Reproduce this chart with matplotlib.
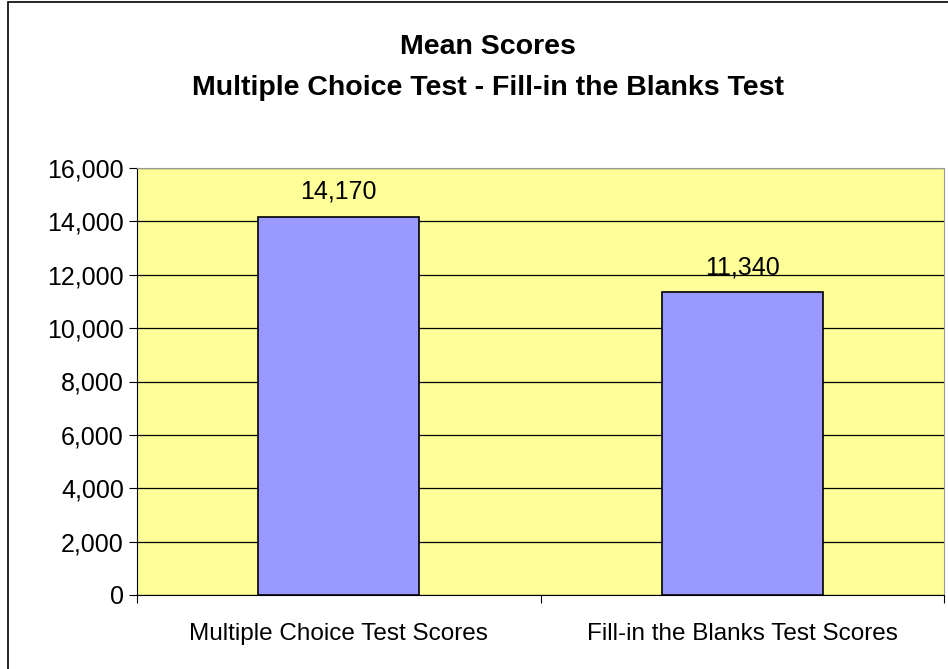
import matplotlib.pyplot as plt
from matplotlib.patches import Rectangle
from matplotlib.ticker import FuncFormatter

# data
categories = ["Multiple Choice Test Scores", "Fill-in the Blanks Test Scores"]
scores = [14170, 11340]
yticks = [0, 2000, 4000, 6000, 8000, 10000, 12000, 14000, 16000]

plt.rcParams['font.family'] = ['Liberation Sans', 'DejaVu Sans']

fig = plt.figure(figsize=(9.48, 6.69), dpi=100)
fig.patch.set_facecolor('white')

# outer chart border
fig.patches.append(Rectangle((7.5 / 948, -0.05), 1.2, 1.05 - 1.5 / 669,
                             transform=fig.transFigure, fill=False,
                             edgecolor='black', linewidth=1.2))

ax = fig.add_axes([137 / 948, 1 - 595 / 669, (944 - 137) / 948, (595 - 168) / 669])
ax.set_facecolor('#FFFF99')

x = range(len(categories))
bars = ax.bar(x, scores, width=0.4, color='#9999FF', edgecolor='black',
              linewidth=1.2, zorder=3)

for b, v in zip(bars, scores):
    ax.text(b.get_x() + b.get_width() / 2, v + 500, f"{v:,}",
            ha='center', va='bottom', fontsize=18)

ax.set_xlim(-0.5, 1.5)
ax.set_ylim(0, 16000)
ax.set_yticks(yticks)
ax.yaxis.set_major_formatter(FuncFormatter(lambda v, p: f"{int(v):,}"))
ax.yaxis.grid(True, color='black', linewidth=0.9, zorder=0)
ax.set_axisbelow(True)

ax.set_xticks([-0.5, 0.5, 1.5], minor=False)
ax.set_xticklabels([])
ax.set_xticks(list(x), minor=True)
ax.set_xticklabels(categories, minor=True, fontsize=17.5)
ax.tick_params(axis='x', which='minor', length=0, pad=20)
ax.tick_params(axis='x', which='major', length=6, direction='out', color='black')
ax.tick_params(axis='y', labelsize=18, length=6, color='black')

for s in ['top', 'right']:
    ax.spines[s].set_color('#999999')
for s in ['left', 'bottom']:
    ax.spines[s].set_color('black')

fig.text(0.515, 1 - 47 / 669, "Mean Scores", ha='center', va='center',
         fontsize=20.5, fontweight='bold')
fig.text(0.515, 1 - 88 / 669, "Multiple Choice Test - Fill-in the Blanks Test",
         ha='center', va='center', fontsize=20.5, fontweight='bold')

fig.savefig("out.png", dpi=100)
